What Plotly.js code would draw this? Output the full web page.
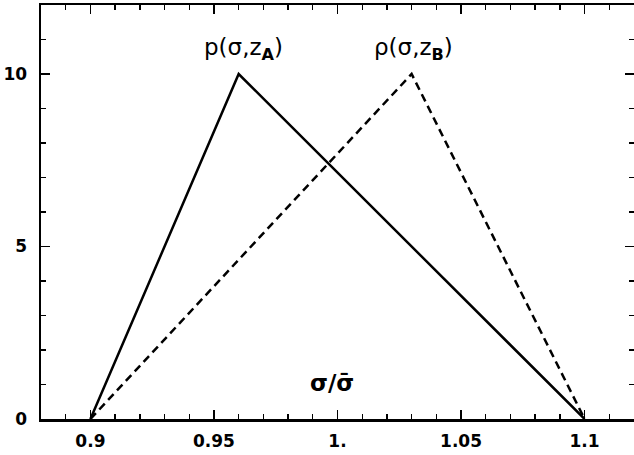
<!DOCTYPE html>
<html>
<head>
<meta charset="utf-8">
<script src="https://cdn.plot.ly/plotly-3.0.1.min.js"></script>
<style>html,body{margin:0;padding:0;background:#fff;}#chart{width:634px;height:455px;}</style>
</head>
<body>
<div id="chart"></div>
<script>
// Data
const xA = [0.9, 0.96, 1.1];
const yA = [0, 10, 0];
const xB = [0.9, 1.03, 1.1];
const yB = [0, 10, 0];
const xTickVals = [0.9, 0.95, 1.0, 1.05, 1.1];
const xTickText = ["0.9", "0.95", "1.", "1.05", "1.1"];
const yTickVals = [0, 5, 10];
const yTickText = ["0", "5", "10"];

const traces = [
  {x: xA, y: yA, mode: 'lines', line: {color: '#000', width: 2.5, dash: 'solid'}, showlegend: false, hoverinfo: 'skip'},
  {x: xB, y: yB, mode: 'lines', line: {color: '#000', width: 2.5, dash: '8px,5px'}, showlegend: false, hoverinfo: 'skip'}
];

const tickFont = {family: 'DejaVu Sans, sans-serif', size: 17, color: '#000', weight: 'bold'};
const lblFont = {family: 'DejaVu Sans, sans-serif', size: 23, color: '#000'};

const layout = {
  width: 634, height: 455,
  margin: {l: 41, r: 0, t: 5, b: 36},
  paper_bgcolor: '#fff', plot_bgcolor: '#fff',
  showlegend: false,
  xaxis: {
    range: [0.88, 1.12], showgrid: false, zeroline: false,
    showline: true, linecolor: '#000', linewidth: 2.5, mirror: 'allticks',
    ticks: 'inside', ticklen: 9, tickwidth: 1.6, tickcolor: '#000',
    tickvals: xTickVals, ticktext: xTickText, tickfont: tickFont,
    ticklabelstandoff: 5,
    minor: {dtick: 0.01, ticks: 'inside', ticklen: 5, tickwidth: 1.4, tickcolor: '#000', showgrid: false}
  },
  yaxis: {
    range: [0, 12], showgrid: false, zeroline: false,
    showline: true, linecolor: '#000', linewidth: 2.5, mirror: 'allticks',
    ticks: 'inside', ticklen: 9, tickwidth: 1.6, tickcolor: '#000',
    tickvals: yTickVals, ticktext: yTickText, tickfont: tickFont,
    ticklabelstandoff: 8,
    minor: {dtick: 1, ticks: 'inside', ticklen: 5, tickwidth: 1.4, tickcolor: '#000', showgrid: false}
  },
  annotations: [
    {xref: 'paper', yref: 'paper', x: 0.341, y: 0.894, text: 'p(σ,z<sub><b>A</b></sub>)', showarrow: false, font: lblFont, xanchor: 'center', yanchor: 'middle'},
    {xref: 'paper', yref: 'paper', x: 0.628, y: 0.894, text: 'ρ(σ,z<sub><b>B</b></sub>)', showarrow: false, font: lblFont, xanchor: 'center', yanchor: 'middle'},
    {xref: 'paper', yref: 'paper', x: 0.4915, y: 0.087, text: '<b>σ/σ\u0304</b>', showarrow: false, font: lblFont, xanchor: 'center', yanchor: 'middle'}
  ]
};

Plotly.newPlot('chart', traces, layout, {staticPlot: true, displayModeBar: false});
</script>
</body>
</html>
